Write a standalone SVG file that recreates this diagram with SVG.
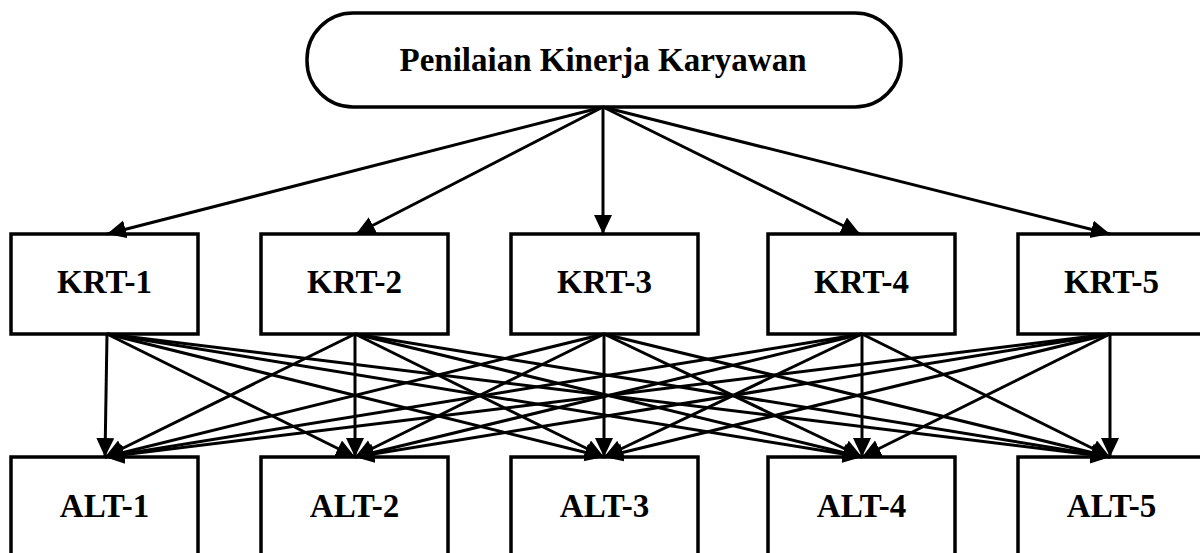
<svg xmlns="http://www.w3.org/2000/svg" width="1200" height="553" viewBox="0 0 1200 553">
<style>
.box{fill:#fff;stroke:#000;stroke-width:3.5}
.lbl{font-family:"Liberation Serif","Times New Roman",serif;font-weight:bold;font-size:33px;text-anchor:middle;fill:#000}
.c line{stroke:#000;stroke-width:3}
</style>
<defs>
<marker id="ah" markerUnits="userSpaceOnUse" markerWidth="22" markerHeight="20" refX="19" refY="9" orient="auto">
<path d="M0,0 L19,9 L0,18 z" fill="#000"/>
</marker>
</defs>
<rect width="1200" height="553" fill="#fff"/>
<g id="root">
<rect class="box" x="307" y="13" width="594" height="94" rx="46" ry="46"/>
<text class="lbl" x="603" y="71">Penilaian Kinerja Karyawan</text>
</g>
<g id="krt1"><rect class="box" x="11" y="234" width="187" height="100"/><text class="lbl" x="104.5" y="293">KRT-1</text></g>
<g id="krt2"><rect class="box" x="261" y="234" width="187" height="100"/><text class="lbl" x="354.5" y="293">KRT-2</text></g>
<g id="krt3"><rect class="box" x="511" y="234" width="187" height="100"/><text class="lbl" x="604.5" y="293">KRT-3</text></g>
<g id="krt4"><rect class="box" x="768" y="234" width="187" height="100"/><text class="lbl" x="861.5" y="293">KRT-4</text></g>
<g id="krt5"><rect class="box" x="1018" y="234" width="187" height="100"/><text class="lbl" x="1111.5" y="293">KRT-5</text></g>
<g id="alt1"><rect class="box" x="11" y="457" width="187" height="100"/><text class="lbl" x="104.5" y="517">ALT-1</text></g>
<g id="alt2"><rect class="box" x="261" y="457" width="187" height="100"/><text class="lbl" x="354.5" y="517">ALT-2</text></g>
<g id="alt3"><rect class="box" x="511" y="457" width="187" height="100"/><text class="lbl" x="604.5" y="517">ALT-3</text></g>
<g id="alt4"><rect class="box" x="768" y="457" width="187" height="100"/><text class="lbl" x="861.5" y="517">ALT-4</text></g>
<g id="alt5"><rect class="box" x="1018" y="457" width="187" height="100"/><text class="lbl" x="1111.5" y="517">ALT-5</text></g>
<g id="connectors" class="c">
<line x1="603" y1="107" x2="107" y2="234" marker-end="url(#ah)"/>
<line x1="603" y1="107" x2="356" y2="234" marker-end="url(#ah)"/>
<line x1="603" y1="107" x2="603" y2="234" marker-end="url(#ah)"/>
<line x1="603" y1="107" x2="860" y2="234" marker-end="url(#ah)"/>
<line x1="603" y1="107" x2="1110" y2="234" marker-end="url(#ah)"/>

<line x1="107" y1="334" x2="105" y2="457" marker-end="url(#ah)"/>
<line x1="107" y1="334" x2="355" y2="457" marker-end="url(#ah)"/>
<line x1="107" y1="334" x2="604" y2="457" marker-end="url(#ah)"/>
<line x1="107" y1="334" x2="862" y2="457" marker-end="url(#ah)"/>
<line x1="107" y1="334" x2="1110" y2="457" marker-end="url(#ah)"/>

<line x1="355" y1="334" x2="105" y2="457" marker-end="url(#ah)"/>
<line x1="355" y1="334" x2="355" y2="457" marker-end="url(#ah)"/>
<line x1="355" y1="334" x2="604" y2="457" marker-end="url(#ah)"/>
<line x1="355" y1="334" x2="862" y2="457" marker-end="url(#ah)"/>
<line x1="355" y1="334" x2="1110" y2="457" marker-end="url(#ah)"/>

<line x1="604" y1="334" x2="105" y2="457" marker-end="url(#ah)"/>
<line x1="604" y1="334" x2="355" y2="457" marker-end="url(#ah)"/>
<line x1="604" y1="334" x2="604" y2="457" marker-end="url(#ah)"/>
<line x1="604" y1="334" x2="862" y2="457" marker-end="url(#ah)"/>
<line x1="604" y1="334" x2="1110" y2="457" marker-end="url(#ah)"/>

<line x1="862" y1="334" x2="105" y2="457" marker-end="url(#ah)"/>
<line x1="862" y1="334" x2="355" y2="457" marker-end="url(#ah)"/>
<line x1="862" y1="334" x2="604" y2="457" marker-end="url(#ah)"/>
<line x1="862" y1="334" x2="862" y2="457" marker-end="url(#ah)"/>
<line x1="862" y1="334" x2="1110" y2="457" marker-end="url(#ah)"/>

<line x1="1110" y1="334" x2="105" y2="457" marker-end="url(#ah)"/>
<line x1="1110" y1="334" x2="355" y2="457" marker-end="url(#ah)"/>
<line x1="1110" y1="334" x2="604" y2="457" marker-end="url(#ah)"/>
<line x1="1110" y1="334" x2="862" y2="457" marker-end="url(#ah)"/>
<line x1="1110" y1="334" x2="1110" y2="457" marker-end="url(#ah)"/>
</g>
</svg>
